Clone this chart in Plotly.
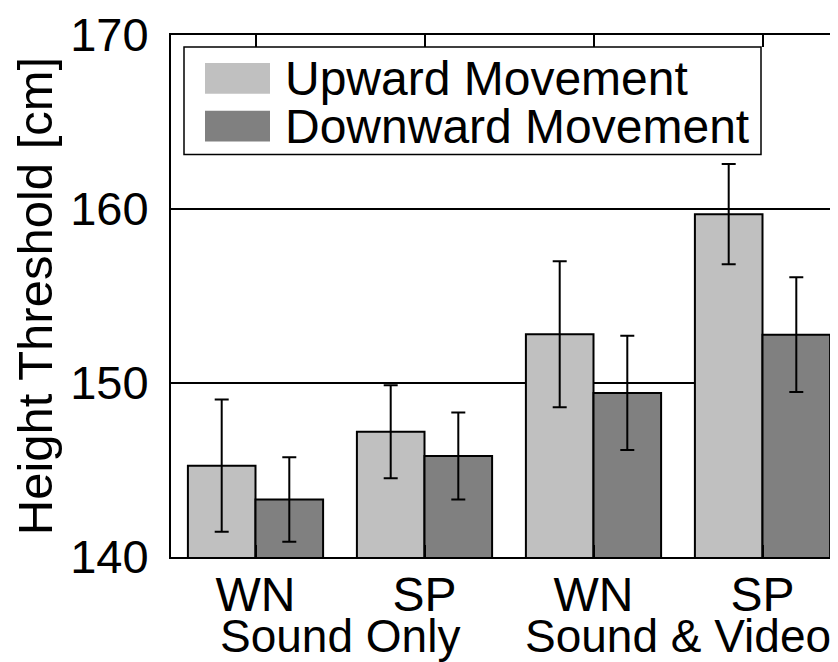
import plotly.graph_objects as go

# ---- data ----
conditions = ["WN", "SP", "WN", "SP"]
groups = ["Sound Only", "Sound & Video"]
group_members = [[0, 1], [2, 3]]
series_names = ["Upward Movement", "Downward Movement"]
upward = [145.25, 147.2, 152.8, 159.7]
upward_err = [3.8, 2.67, 4.2, 2.88]
downward = [143.3, 145.8, 149.43, 152.78]
downward_err = [2.43, 2.5, 3.28, 3.3]
y_ticks = [140, 150, 160, 170]

colors = ["#c0c0c0", "#808080"]
FONT = "Liberation Sans, Arial, sans-serif"
FS = 48

x = list(range(len(conditions)))

fig = go.Figure()
for name, vals, errs, col in [
    (series_names[0], upward, upward_err, colors[0]),
    (series_names[1], downward, downward_err, colors[1]),
]:
    fig.add_trace(go.Bar(
        x=x, y=vals, name=name,
        marker=dict(color=col, line=dict(color="black", width=2)),
        error_y=dict(type="data", array=errs, visible=True,
                     color="black", thickness=2, width=7),
        showlegend=False,
    ))

# group labels
for g, members in zip(groups, group_members):
    fig.add_annotation(x=sum(members) / len(members), y=0, xref="x", yref="paper",
                       yshift=-51, text=g, showarrow=False,
                       font=dict(family=FONT, size=46, color="black"),
                       yanchor="top")

# manual legend (large swatches); plot area spans screen px x 171..838, y 33..557
px2x = lambda p: (p - 171) / 667
py2y = lambda p: (557 - p) / 524
fig.add_shape(type="rect", xref="paper", yref="paper",
              x0=px2x(184), x1=px2x(761), y0=py2y(153), y1=py2y(45),
              line=dict(color="black", width=1.5), fillcolor="white", layer="above")
for i, (name, col) in enumerate(zip(series_names, colors)):
    top = 61 + i * 48
    fig.add_shape(type="rect", xref="paper", yref="paper",
                  x0=px2x(205), x1=px2x(270), y0=py2y(top + 31), y1=py2y(top),
                  line=dict(width=0), fillcolor=col, layer="above")
    fig.add_annotation(x=px2x(283), y=py2y(top + 15.5), xref="paper", yref="paper",
                       text=name, showarrow=False, xanchor="left", yanchor="middle",
                       font=dict(family=FONT, size=FS, color="black"))

# the page body adds an 8px offset, so the figure is 830x654
fig.update_layout(
    width=830, height=654,
    margin=dict(l=163, r=0, t=25, b=105),
    paper_bgcolor="white", plot_bgcolor="white",
    barmode="group", bargap=0.2, bargroupgap=0,
    font=dict(family=FONT, size=FS, color="black"),
)
fig.update_xaxes(
    range=[-0.5, -0.5 + 667 / 169],
    tickvals=x, ticktext=conditions,
    ticks="inside", ticklen=12, tickwidth=1.5, tickcolor="black",
    showline=True, linecolor="black", linewidth=2, mirror="ticks",
    showgrid=False, zeroline=False,
    ticklabelstandoff=-6,
    tickfont=dict(family=FONT, size=FS, color="black"),
)
fig.update_yaxes(
    range=[140, 170], tickvals=y_ticks,
    showline=True, linecolor="black", linewidth=2,
    showgrid=True, gridcolor="black", gridwidth=1.5,
    zeroline=False, ticks="",
    ticklabelstandoff=11, ticklabeloverflow="allow",
    tickfont=dict(family=FONT, size=47, color="black"),
    title=dict(text="Height Threshold [cm]", standoff=6,
               font=dict(family=FONT, size=49, color="black")),
)

fig.write_html("out.html")
